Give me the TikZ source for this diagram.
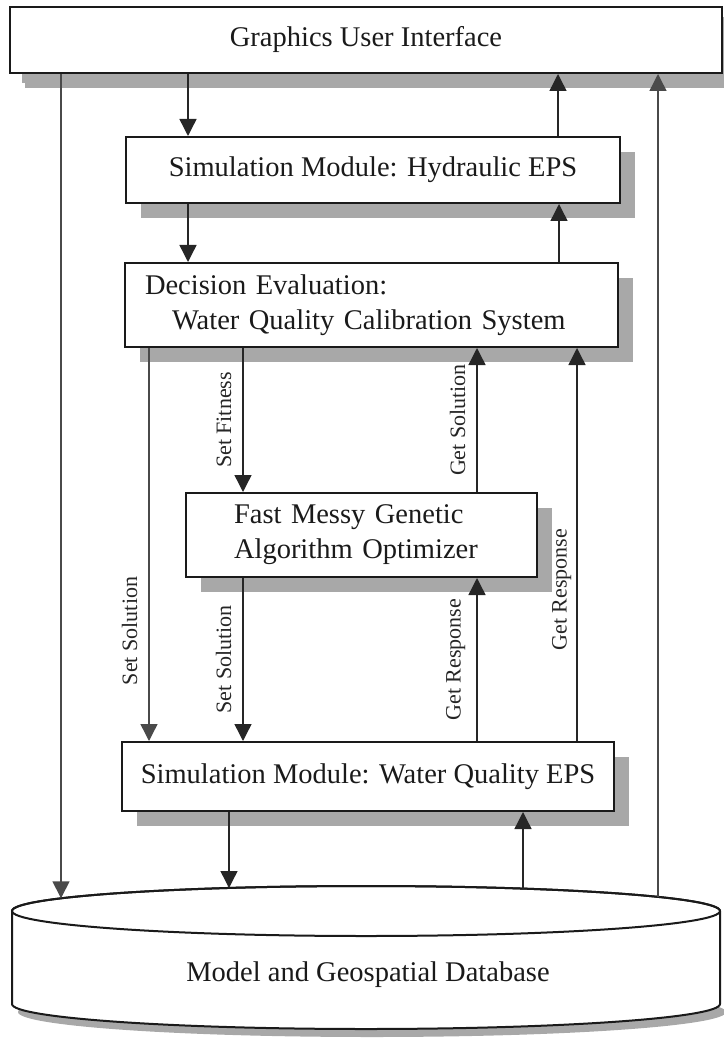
\documentclass[tikz,border=0pt]{standalone}
\usepackage{fontspec}
\setmainfont{Liberation Serif}
\usetikzlibrary{arrows.meta, shadows, calc}
\definecolor{InkA}{HTML}{1A1A1A}
\definecolor{InkB}{HTML}{262626}
\definecolor{InkC}{HTML}{4A4A4A}
\definecolor{ShadeA}{HTML}{A8A8A8}
\tikzset{
  bx/.style={draw=InkA, fill=white, line width=2pt, inner sep=0pt,
             font=\fontsize{28.5}{35}\selectfont, text=InkA,
             drop shadow={shadow xshift=15pt, shadow yshift=-15pt, fill=ShadeA, opacity=1}},
  bxl/.style={bx, align=left, inner xsep=#1},
  ar/.style={-{Triangle[length=17pt, width=17pt]}, line width=1.4pt, draw=InkB},
  arg/.style={ar, draw=InkC},
  lb/.style={font=\fontsize{22}{24}\selectfont, text=InkB, rotate=90, anchor=south,
             inner xsep=2pt, inner ysep=#1},
  lb/.default=11pt,
}

\begin{document}
\begin{tikzpicture}[x=1pt, y=1pt]
  \useasboundingbox (0,0) rectangle (723,-1040);

  \node[bx, minimum width=712, minimum height=66,
        drop shadow={shadow xshift=12pt, shadow yshift=-10pt, fill=ShadeA, opacity=1}]
       (gui) at (366,-40) {Graphics User Interface};
  \node[bx, minimum width=494, minimum height=66] (hyd) at (373,-170)
       {Simulation Module: Hydraulic EPS};
  \node[bxl=20pt, text width=453, minimum width=493, minimum height=84] (dec) at (371.5,-305)
       {Decision Evaluation:\\\hspace*{0.95em}Water Quality Calibration System};
  \node[bxl=48pt, text width=255, minimum width=351, minimum height=84] (fmga) at (361.5,-535)
       {Fast Messy Genetic\\Algorithm Optimizer};
  \node[bx, minimum width=492, minimum height=69] (wq) at (368,-776.5)
       {Simulation Module: Water Quality EPS};

  % database drum
  \coordinate (dbt) at (366,-911);
  \coordinate (dbb) at (366,-1004);
  \fill[ShadeA] ($(dbb)+(6,-8)$) ellipse[x radius=354, y radius=25];
  \filldraw[draw=InkA, fill=white, line width=2pt]
       ($(dbt)+(-354,0)$) -- ($(dbb)+(-354,0)$)
       arc[start angle=180, end angle=360, x radius=354, y radius=25]
       -- ($(dbt)+(354,0)$)
       arc[start angle=0, end angle=180, x radius=354, y radius=25] -- cycle;
  \draw[draw=InkA, line width=2pt] (dbt) ellipse[x radius=354, y radius=25];
  \node[font=\fontsize{28.5}{35}\selectfont, text=InkA] (db) at (368,-975)
       {Model and Geospatial Database};
  \coordinate (dbA) at ($(dbt)+(-305,12.7)$);
  \coordinate (dbB) at ($(dbt)+(-137,23)$);
  \coordinate (dbC) at ($(dbt)+(157,22.4)$);
  \coordinate (dbD) at ($(dbt)+(292,14.1)$);

  \draw[arg] (61,0 |- gui.south) -- (dbA);
  \draw[ar] (188,0 |- gui.south) -- (188,0 |- hyd.north);
  \draw[ar] (558,0 |- hyd.north) -- (558,0 |- gui.south);
  \draw[arg] (dbD) -- (658,0 |- gui.south);
  \draw[ar] (188,0 |- hyd.south) -- (188,0 |- dec.north);
  \draw[ar] (559,0 |- dec.north) -- (559,0 |- hyd.south);

  \draw[arg] (149,0 |- dec.south) -- node[lb, pos=0.72]{Set Solution} (149,0 |- wq.north);
  \draw[ar] (243,0 |- dec.south) -- node[lb, midway]{Set Fitness} (243,0 |- fmga.north);
  \draw[ar] (477,0 |- fmga.north) -- node[lb, midway]{Get Solution} (477,0 |- dec.south);
  \draw[ar] (577,0 |- wq.north) -- node[lb=5pt, pos=0.385]{Get Response} (577,0 |- dec.south);
  \draw[ar] (243,0 |- fmga.south) -- node[lb, midway]{Set Solution} (243,0 |- wq.north);
  \draw[ar] (477,0 |- wq.north) -- node[lb, midway]{Get Response} (477,0 |- fmga.south);

  \draw[ar] (229,0 |- wq.south) -- (dbB);
  \draw[ar] (dbC) -- (523,0 |- wq.south);
\end{tikzpicture}
\end{document}
